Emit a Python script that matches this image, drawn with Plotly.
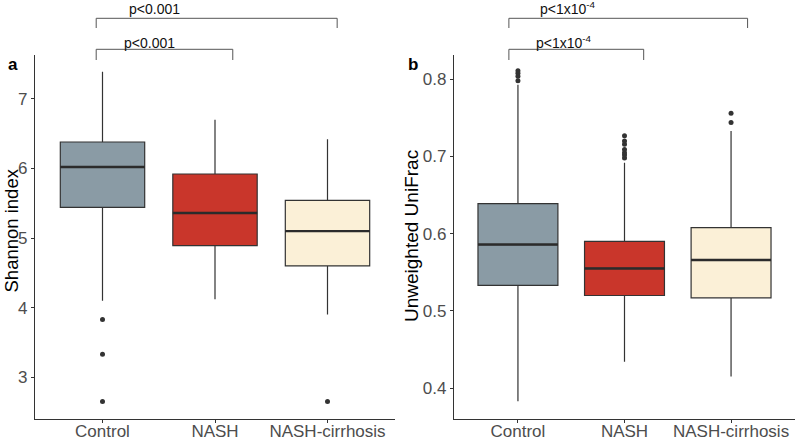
import plotly.graph_objects as go

categories = ["Control", "NASH", "NASH-cirrhosis"]
colors = ["#8A9BA5", "#C9362B", "#FBF0D7"]

# Panel a: Shannon index
sh_q1 = [5.44, 4.89, 4.60]
sh_med = [6.02, 5.36, 5.10]
sh_q3 = [6.38, 5.92, 5.54]
sh_lo = [4.10, 4.12, 3.90]
sh_hi = [7.39, 6.70, 6.42]
sh_out = [[3.83, 3.33, 2.65], [], [2.65]]

# Panel b: Unweighted UniFrac
uf_q1 = [0.533, 0.520, 0.517]
uf_med = [0.586, 0.555, 0.566]
uf_q3 = [0.639, 0.590, 0.608]
uf_lo = [0.383, 0.434, 0.415]
uf_hi = [0.793, 0.692, 0.733]
uf_out = [[0.798, 0.804, 0.808, 0.811],
          [0.698, 0.702, 0.705, 0.709, 0.716, 0.720, 0.727],
          [0.744, 0.756]]

pvals_a = ["p<0.001", "p<0.001"]
pvals_b = ["p<1x10<sup>-4</sup>", "p<1x10<sup>-4</sup>"]

FONT = "Liberation Sans, Arial, sans-serif"
LINE = "#333333"
BW = 0.75

fig = go.Figure()

def add_panel(xa, ya, q1, med, q3, lo, hi, outs):
    for i, cat in enumerate(categories):
        fig.add_trace(go.Box(
            x=[i], q1=[q1[i]], median=[med[i]], q3=[q3[i]],
            lowerfence=[lo[i]], upperfence=[hi[i]],
            width=BW, whiskerwidth=0, fillcolor=colors[i],
            line=dict(color=LINE, width=1.2), boxpoints=False,
            xaxis=xa, yaxis=ya, showlegend=False, hoverinfo="skip"))
        fig.add_trace(go.Scatter(
            x=[i - BW / 2, i + BW / 2], y=[med[i], med[i]], mode="lines",
            line=dict(color="#2B2B2B", width=2.4), xaxis=xa, yaxis=ya,
            showlegend=False, hoverinfo="skip"))
        if outs[i]:
            fig.add_trace(go.Scatter(
                x=[i] * len(outs[i]), y=outs[i], mode="markers",
                marker=dict(color=LINE, size=5), xaxis=xa, yaxis=ya,
                showlegend=False, hoverinfo="skip"))

add_panel("x", "y", sh_q1, sh_med, sh_q3, sh_lo, sh_hi, sh_out)
add_panel("x2", "y2", uf_q1, uf_med, uf_q3, uf_lo, uf_hi, uf_out)

ydom = [1 - 419 / 439, 1 - 55 / 439]
axis_common = dict(showgrid=False, zeroline=False, showline=True,
                   automargin=False,
                   linecolor=LINE, linewidth=1.2, ticks="outside",
                   ticklen=3, tickcolor=LINE,
                   tickfont=dict(family=FONT, size=17, color="#4D4D4D"))

fig.update_layout(
    width=800, height=439, margin=dict(l=0, r=0, t=0, b=0),
    paper_bgcolor="white", plot_bgcolor="white",
    xaxis=dict(domain=[35 / 800, 395 / 800], range=[-0.6, 2.6], anchor="y",
               tickvals=[0, 1, 2], ticktext=categories,
               ticklabelstandoff=-7, **axis_common),
    yaxis=dict(domain=ydom, range=[2.40, 7.63], tickvals=[3, 4, 5, 6, 7],
               anchor="x", **axis_common),
    xaxis2=dict(domain=[454 / 800, 795 / 800], range=[-0.6, 2.6], anchor="y2",
                tickvals=[0, 1, 2], ticktext=categories,
                ticklabelstandoff=-7, **axis_common),
    yaxis2=dict(domain=ydom, range=[0.360, 0.8315], anchor="x2",
                tickvals=[0.4, 0.5, 0.6, 0.7, 0.8], tickformat=".1f",
                **axis_common),
)

def bracket(xref, x0, x1, ytop, ybot):
    fig.add_shape(type="path", xref=xref, yref="paper",
                  path=f"M {x0},{ybot} L {x0},{ytop} L {x1},{ytop} L {x1},{ybot}",
                  line=dict(color="#555555", width=1))

# panel a brackets
bracket("x", -0.056, 2.086, 1 - 18.3 / 439, 1 - 28 / 439)
bracket("x", -0.056, 1.158, 1 - 49.3 / 439, 1 - 60 / 439)
# panel b brackets
bracket("x2", -0.085, 2.155, 1 - 18.3 / 439, 1 - 28 / 439)
bracket("x2", -0.085, 1.18, 1 - 49.3 / 439, 1 - 60 / 439)

ann = []
ann.append(dict(x=0.46, xref="x", y=1 - 8.5 / 439, yref="paper", text=pvals_a[0]))
ann.append(dict(x=0.42, xref="x", y=1 - 43.5 / 439, yref="paper", text=pvals_a[1]))
ann.append(dict(x=0.47, xref="x2", y=1 - 8 / 439, yref="paper", text=pvals_b[0]))
ann.append(dict(x=0.43, xref="x2", y=1 - 42.5 / 439, yref="paper", text=pvals_b[1]))
for a in ann:
    a.update(showarrow=False, xanchor="center", yanchor="middle",
             font=dict(family=FONT, size=14, color="#111111"))
    fig.add_annotation(**a)

# panel letters
fig.add_annotation(x=12.5 / 800, y=1 - 65 / 439, xref="paper", yref="paper",
                   text="<b>a</b>", showarrow=False,
                   xanchor="center", yanchor="middle",
                   font=dict(family=FONT, size=17, color="black"))
fig.add_annotation(x=413 / 800, y=1 - 65 / 439, xref="paper", yref="paper",
                   text="<b>b</b>", showarrow=False,
                   xanchor="center", yanchor="middle",
                   font=dict(family=FONT, size=17, color="black"))

# y titles
fig.add_annotation(x=10.5 / 800, y=1 - 231 / 439, xref="paper", yref="paper",
                   text="Shannon index", textangle=-90, showarrow=False,
                   xanchor="center", yanchor="middle",
                   font=dict(family=FONT, size=18.5, color="black"))
fig.add_annotation(x=411 / 800, y=1 - 236 / 439, xref="paper", yref="paper",
                   text="Unweighted UniFrac", textangle=-90, showarrow=False,
                   xanchor="center", yanchor="middle",
                   font=dict(family=FONT, size=19, color="black"))

fig.write_html(
    "out.html",
    config={"displayModeBar": False, "responsive": False},
    post_script=("document.documentElement.style.margin='0';"
                 "document.documentElement.style.overflow='hidden';"
                 "document.body.style.margin='0';"
                 "document.body.style.overflow='hidden';"),
)
